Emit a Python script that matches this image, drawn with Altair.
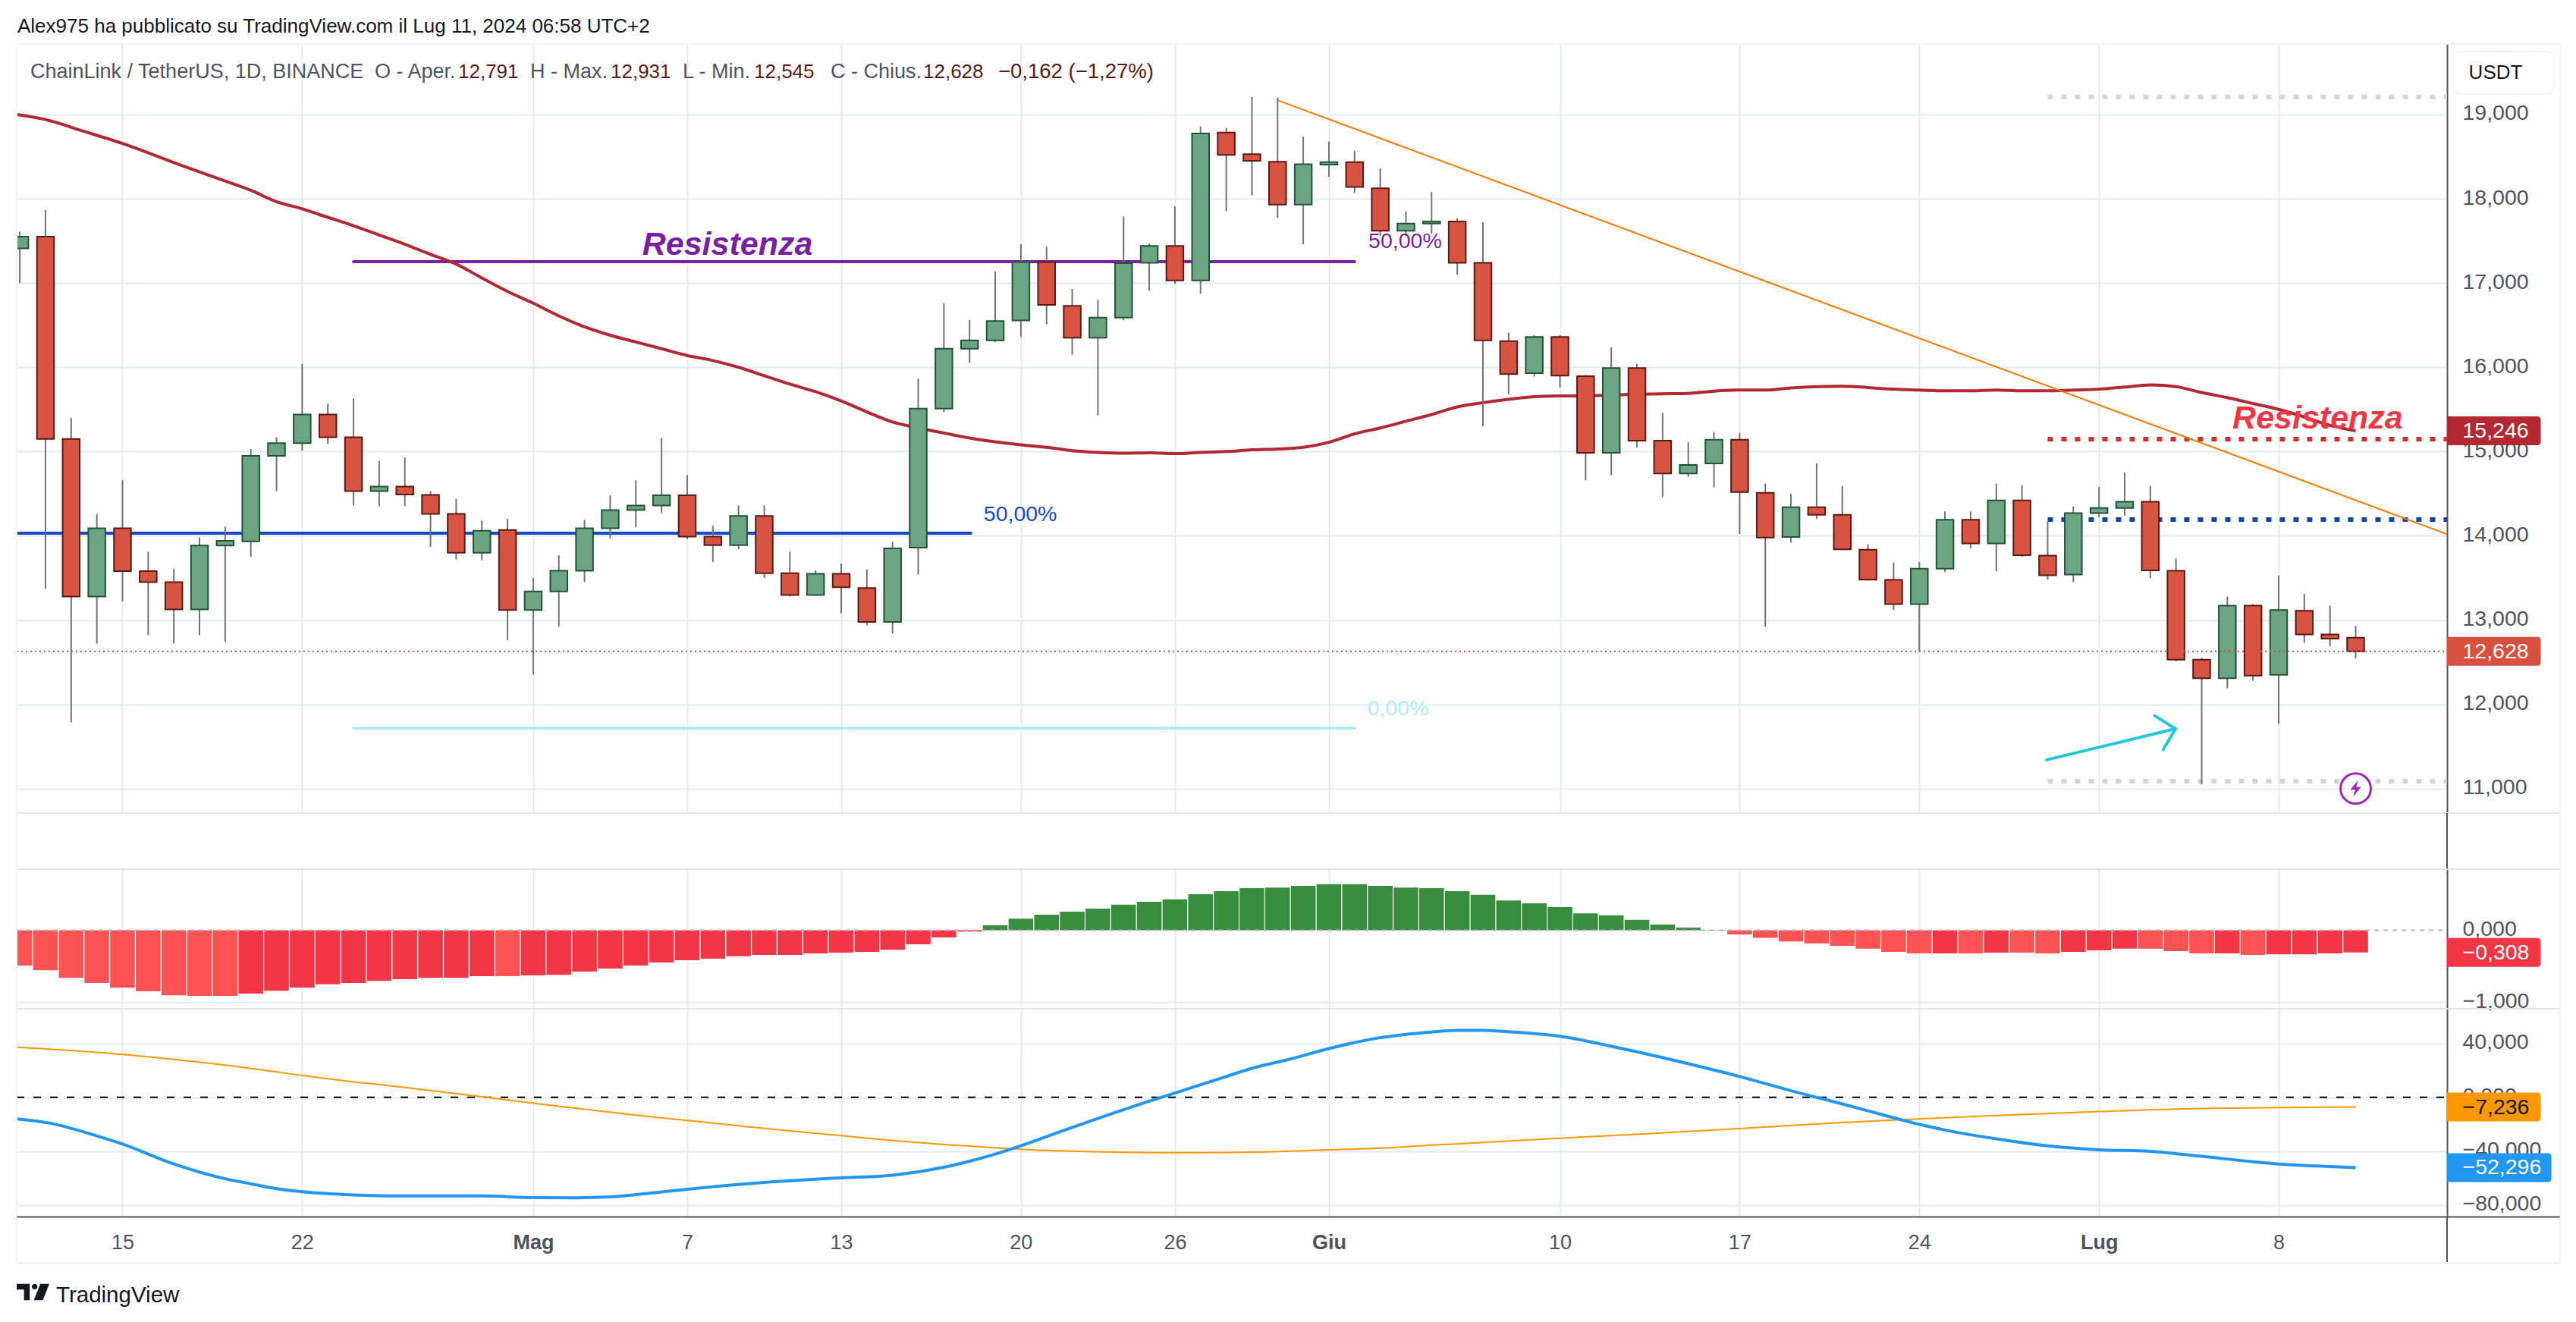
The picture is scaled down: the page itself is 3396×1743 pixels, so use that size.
import altair as alt
import pandas as pd

FONT = "Liberation Sans"

# ---- Candles: index 0 is 15 April; day -4 is 11 April, day 87 is 11 July
first_day = -4
opens = [17.41,17.55,15.15,13.28,14.09,13.58,13.45,13.125,13.885,13.935,14.95,15.10,15.44,15.17,14.53,14.585,14.485,14.26,13.80,14.07,13.12,13.34,13.585,14.09,14.305,14.36,14.48,13.99,13.89,14.235,13.556,13.296,13.55,13.38,12.977,13.86,15.51,16.22,16.32,16.555,17.25,16.73,16.35,16.59,17.24,17.44,17.03,18.785,18.53,18.44,17.93,18.405,18.435,18.125,17.62,17.705,17.73,17.24,16.31,15.93,16.36,15.895,14.985,15.99,15.13,14.74,14.86,15.14,14.51,13.985,14.34,14.25,13.835,13.476,13.19,13.61,14.19,13.91,14.42,13.765,13.54,14.27,14.33,14.405,13.585,12.53,12.31,13.17,12.35,13.11,12.83,12.791]
highs = [17.61,17.865,15.40,14.26,14.66,13.81,13.61,13.98,14.11,15.03,15.17,16.04,15.57,15.63,14.89,14.93,14.53,14.44,14.18,14.20,13.50,13.77,14.19,14.48,14.66,15.16,14.72,14.12,14.36,14.36,13.81,13.59,13.67,13.60,13.93,15.865,16.76,16.56,17.14,17.46,17.43,16.93,16.80,17.79,17.47,17.91,18.86,18.84,19.21,19.20,18.74,18.68,18.57,18.36,17.85,18.08,17.77,17.72,16.41,16.38,16.38,15.91,16.235,16.04,15.46,15.11,15.23,15.22,14.62,14.50,14.86,14.59,13.90,13.68,13.69,14.29,14.29,14.62,14.60,14.17,14.35,14.58,14.75,14.59,13.73,12.55,13.28,13.19,13.53,13.31,13.17,12.931]
lows = [17.00,13.37,11.785,12.72,13.22,12.82,12.72,12.82,12.74,13.75,14.53,15.01,15.09,14.36,14.35,14.35,13.87,13.72,13.71,12.76,12.35,12.92,13.45,13.97,14.10,14.27,13.96,13.69,13.84,13.50,13.28,13.29,13.08,12.935,12.84,13.54,15.47,16.05,16.30,16.36,16.51,16.15,15.43,16.56,16.91,16.99,16.875,17.85,18.04,17.775,17.46,18.26,18.07,17.56,17.56,17.585,17.10,15.30,15.68,15.89,15.76,14.66,14.72,15.05,14.46,14.70,14.575,14.02,12.92,13.92,14.20,13.84,13.47,13.12,12.63,13.57,13.85,13.58,13.75,13.48,13.45,14.22,14.24,13.50,12.51,11.05,12.19,12.28,11.77,12.73,12.69,12.545]
closes = [17.55,15.15,13.28,14.09,13.58,13.45,13.125,13.885,13.94,14.95,15.10,15.44,15.17,14.53,14.585,14.49,14.26,13.80,14.06,13.12,13.34,13.585,14.09,14.305,14.36,14.48,13.99,13.89,14.235,13.556,13.296,13.55,13.39,12.977,13.85,15.51,16.22,16.32,16.55,17.25,16.74,16.35,16.59,17.235,17.44,17.03,18.775,18.52,18.45,17.93,18.41,18.435,18.14,17.62,17.705,17.73,17.24,16.32,15.92,16.36,15.90,14.985,15.99,15.13,14.74,14.84,15.14,14.52,13.98,14.34,14.25,13.84,13.48,13.19,13.61,14.19,13.91,14.42,13.77,13.53,14.27,14.33,14.405,13.59,12.53,12.31,13.17,12.34,13.12,12.83,12.78,12.628]

# ---- Moving average
ma_days = [-4.12,-3,-1.5,0,2,4,5,6,7,8,9,10,11,12,13,14,15,16,17,18,19,20,21,22,23,24,25,26,27,28,29,30,31,32,33,34,35,36,37,38,39,40,41,42,43,44,45,46,47,48,49,50,51,52,53,54,55,56,57,58,59,60,61,62,63,64,65,66,67,68,69,70,71,72,73,74,75,76,77,78,79,80,81,82,83,84,85,86,87]
ma_vals = [19.0,18.94,18.8,18.656,18.43,18.21,18.10,17.965,17.88,17.78,17.68,17.57,17.46,17.34,17.225,17.06,16.9,16.76,16.61,16.48,16.38,16.30,16.22,16.14,16.08,16.0,15.9,15.8,15.71,15.6,15.47,15.35,15.28,15.22,15.16,15.115,15.08,15.05,15.01,14.99,14.98,14.985,14.975,14.99,15.0,15.02,15.03,15.05,15.11,15.21,15.28,15.36,15.44,15.53,15.58,15.62,15.65,15.66,15.66,15.67,15.68,15.685,15.69,15.717,15.73,15.73,15.755,15.77,15.775,15.76,15.74,15.73,15.72,15.72,15.73,15.72,15.72,15.73,15.74,15.765,15.79,15.77,15.70,15.64,15.57,15.50,15.41,15.31,15.246]

# ---- Histogram: days -4 .. 87
hist_vals = [-.489,-.553,-.658,-.73,-.795,-.845,-.90,-.909,-.909,-.877,-.836,-.795,-.749,-.73,-.70,-.676,-.658,-.658,-.635,-.635,-.626,-.616,-.571,-.53,-.489,-.447,-.416,-.393,-.361,-.342,-.342,-.32,-.31,-.30,-.27,-.196,-.10,-.018,.068,.16,.215,.256,.297,.352,.393,.425,.498,.539,.58,.589,.612,.635,.635,.612,.589,.58,.539,.489,.411,.37,.32,.233,.205,.142,.078,.037,.005,-.059,-.105,-.155,-.183,-.215,-.256,-.30,-.32,-.32,-.32,-.31,-.31,-.32,-.30,-.278,-.256,-.256,-.288,-.32,-.32,-.342,-.333,-.333,-.32,-.308]
hist_kinds = list("LLLLLLLLL") + list("DDDDDDDDDD") + ["L"] + ["D"] * 18 + ["G"] * 29 + list("LLLLLLLL") + list("DLDLLDDDLLLDLDDDD")

# ---- Oscillator lines
blue_days = [-4.1,-2.85,-1,0,2,4,5,6,7,9,11,14,16,17.5,19,21,23,25,27,28,30,32,34,35,36,38,40,41,43,44,45.5,47,49,51,52,53,54,56,58,59,61,63,65,67,69,70,71,73,75,77,79,81,83,84,86,87]
blue_vals = [-16,-19.1,-28.7,-34.8,-49.6,-60.6,-64.3,-68,-70.2,-72.6,-73.4,-73.4,-74.6,-74.8,-74.1,-70.4,-66.5,-63.3,-60.9,-59.9,-57.9,-52,-42.2,-36,-29.2,-15.7,-2.9,3.2,15.5,21.6,28.5,36.3,44.4,48.6,49.8,49.8,48.8,45.4,38,33.9,25,15.5,4.9,-4.9,-15.2,-20.1,-24.3,-30.9,-36.1,-39,-40.2,-43.9,-47.9,-49.6,-51.5,-52.296]
orange_days = [-4.1,-2,0,2,4,6,7,9,11,14,16,18,20,22,24,26,28,30,32,34,36,38,41,43,45.5,47,49,51,53,56,59,63,67,70,73,77,81,84,87]
orange_vals = [37.3,34.8,31.9,28.2,24,18.9,16.2,11.5,7.4,.5,-4.4,-8.8,-13.3,-17.2,-21.1,-25,-28.5,-32.1,-35.1,-37.5,-39.5,-40.5,-41.2,-41,-40,-39,-37.8,-35.6,-33.6,-30.4,-27.5,-23.3,-18.7,-16,-13.5,-10.6,-8.3,-7.6,-7.236]

# ---- Axis
tick_days = [0,7,16,22,28,35,41,47,56,63,70,77,84]
tick_names = ["15","22","Mag","7","13","20","26","Giu","10","17","24","Lug","8"]
month_days = [16,47,77]
price_ticks = [11,12,13,14,15,16,17,18,19]
macd_ticks = [0,-1]
osc_ticks = [40,0,-40,-80]

# ---- Drawings
fib_purple = 17.254
fib_blue = 14.03
fib_cyan = 11.717
dotted_levels = [19.21,15.148,14.193,11.087]
trend_days = [45,90.56]
trend_vals = [19.17,14.02]
arrow_days = [74.96,79.98]
arrow_vals = [11.34,11.71]
head_days = [79.17,79.98,79.5]
head_vals = [11.865,11.71,11.46]
last_close = 12.628

# ---- Layout (pixels of the panes)
W = 3204
FRAME_R = 3353
H_HEAD, H_PRICE, H_GAP, H_MACD, H_OSC, H_FOOT = 50, 1014, 74, 184, 274.5, 130.5

GRID = "#E1ECF2"
SEP = "#E0E3EB"
FRAME = "#F0F3FA"
AXIS = "#50535E"
TXT = "#50535E"

x_scale = alt.Scale(domain=[-4.122, 90.56], nice=False, zero=False, padding=0)
py = alt.Scale(domain=[10.709, 19.837], nice=False, zero=False, padding=0)
my = alt.Scale(domain=[-1.086, 0.843], nice=False, zero=False, padding=0)
oy = alt.Scale(domain=[-89.0, 65.9], nice=False, zero=False, padding=0)
label_expr = "replace(format(datum.value,'.3f'),'.',',')"
one = pd.DataFrame({"k": [0]})


def x_axis_grid():
    return alt.Axis(values=tick_days, grid=True, gridColor=GRID, gridWidth=2, labels=False,
                    ticks=False, domain=False, title=None)


def y_axis(vals, grid=True):
    return alt.Axis(values=vals, orient="right", grid=grid, gridColor=GRID, gridWidth=2,
                    ticks=False, domain=True, domainColor=AXIS, domainWidth=2, title=None,
                    labelExpr=label_expr, labelFont=FONT, labelFontSize=28.5, labelColor=TXT,
                    labelPadding=20, labelAlign="left", labelOverlap=False, labelBound=False,
                    labelFlush=False, labelOffset=-2)


def text(t, x, y, color=TXT, size=26, align="left", **kw):
    return alt.Chart(pd.DataFrame({"t": [t]})).mark_text(
        font=FONT, fontSize=size, color=color, align=align, baseline="middle", clip=False, **kw
    ).encode(x=alt.value(x), y=alt.value(y), text="t:N")


def hrule(y, x0=0, x1=FRAME_R, color=SEP, w=2):
    return alt.Chart(one).mark_rule(color=color, strokeWidth=w).encode(
        x=alt.value(x0), x2=alt.value(x1), y=alt.value(y))


def vrule(x, y0, y1, color=FRAME, w=2):
    return alt.Chart(one).mark_rule(color=color, strokeWidth=w).encode(
        x=alt.value(x), y=alt.value(y0), y2=alt.value(y1))


def side(h):
    return [vrule(0, 0, h), vrule(FRAME_R, 0, h)]


def line(days, vals, yscale, color, w):
    df = pd.DataFrame({"d": days, "v": vals})
    return alt.Chart(df).mark_line(color=color, strokeWidth=w, clip=True, interpolate="monotone").encode(
        x=alt.X("d:Q", scale=x_scale, axis=None), y=alt.Y("v:Q", scale=yscale, axis=None))


def tag(value, label, yscale, color, right, txt="#FFFFFF"):
    df = pd.DataFrame({"v": [value], "t": [label]})
    bar = alt.Chart(df).mark_bar(size=38, orient="horizontal", color=color, clip=False,
                                 cornerRadiusTopRight=4, cornerRadiusBottomRight=4).encode(
        x=alt.value(W), x2=alt.value(right), y=alt.Y("v:Q", scale=yscale, axis=None))
    lab = alt.Chart(df).mark_text(font=FONT, fontSize=28.5, color=txt, align="left", baseline="middle",
                                  clip=False).encode(
        x=alt.value(W + 20.5), y=alt.Y("v:Q", scale=yscale, axis=None), text="t:N")
    return [bar, lab]


# ---- Header strip
head = alt.layer(
    text("Alex975 ha pubblicato su TradingView.com il Lug 11, 2024 06:58 UTC+2", 1, 27, color="#131722", size=26)
).properties(width=W, height=H_HEAD)

# ---- Price pane
days = [first_day + i for i in range(len(opens))]
candles = pd.DataFrame({"d": days, "o": opens, "h": highs, "l": lows, "c": closes})
candles["top"] = candles[["o", "c"]].max(axis=1)
candles["bot"] = candles[["o", "c"]].min(axis=1)
candles["dir"] = ["up" if c >= o else "down" for o, c in zip(opens, closes)]

gridlayer = alt.Chart(pd.DataFrame({"d": ma_days, "v": ma_vals})).mark_line(opacity=0).encode(
    x=alt.X("d:Q", scale=x_scale, axis=x_axis_grid()),
    y=alt.Y("v:Q", scale=py, axis=y_axis(price_ticks)))


def fib(v, d0, d1, color):
    df = pd.DataFrame({"a": [d0], "b": [d1], "v": [v]})
    return alt.Chart(df).mark_rule(color=color, strokeWidth=4, strokeCap="round", clip=True).encode(
        x=alt.X("a:Q", scale=x_scale, axis=None), x2="b:Q", y=alt.Y("v:Q", scale=py, axis=None))


def dotted(v, color):
    df = pd.DataFrame({"a": [75], "b": [90.56], "v": [v]})
    return alt.Chart(df).mark_rule(color=color, strokeWidth=6, strokeDash=[7, 11], clip=True).encode(
        x=alt.X("a:Q", scale=x_scale, axis=None), x2="b:Q", y=alt.Y("v:Q", scale=py, axis=None))


wicks = alt.Chart(candles).mark_rule(color="#737375", strokeWidth=2, clip=True).encode(
    x=alt.X("d:Q", scale=x_scale, axis=None), y=alt.Y("l:Q", scale=py, axis=None), y2="h:Q")
bodies = alt.Chart(candles).mark_bar(size=22.5, strokeWidth=2, orient="vertical", clip=True).encode(
    x=alt.X("d:Q", scale=x_scale, axis=None),
    y=alt.Y("bot:Q", scale=py, axis=None), y2="top:Q",
    fill=alt.Fill("dir:N", scale=alt.Scale(domain=["up", "down"], range=["#6BA583", "#D75442"]), legend=None),
    stroke=alt.Stroke("dir:N", scale=alt.Scale(domain=["up", "down"], range=["#225437", "#5B1A13"]), legend=None))

last_line = alt.Chart(pd.DataFrame({"v": [last_close]})).mark_rule(
    color="#D85140", strokeWidth=2, strokeDash=[2, 4]).encode(
    x=alt.value(0), x2=alt.value(W), y=alt.Y("v:Q", scale=py, axis=None))


def seg(xs, ys, color, w, sc=py):
    df = pd.DataFrame({"d": xs, "v": ys, "n": range(len(xs))})
    return alt.Chart(df).mark_line(color=color, strokeWidth=w, strokeCap="round", strokeJoin="miter", clip=True).encode(
        x=alt.X("d:Q", scale=x_scale, axis=None), y=alt.Y("v:Q", scale=sc, axis=None), order="n:Q")


def fib_text(t, d, v, color):
    df = pd.DataFrame({"d": [d], "v": [v], "t": [t]})
    return alt.Chart(df).mark_text(font=FONT, fontSize=28.5, color=color, align="left", baseline="middle").encode(
        x=alt.X("d:Q", scale=x_scale, axis=None), y=alt.Y("v:Q", scale=py, axis=None), text="t:N")


def big_text(t, d, v, color):
    df = pd.DataFrame({"d": [d], "v": [v], "t": [t]})
    return alt.Chart(df).mark_text(font=FONT, fontSize=43, fontWeight="bold", fontStyle="italic", color=color,
                                   align="left", baseline="middle").encode(
        x=alt.X("d:Q", scale=x_scale, axis=None), y=alt.Y("v:Q", scale=py, axis=None), text="t:N")


bolt_df = pd.DataFrame({"d": [87], "v": [11.0]})
circle = alt.Chart(bolt_df).mark_point(shape="circle", size=1590, stroke="#9C27B0", strokeWidth=3, fill="#FFFFFF",
                                       filled=False, fillOpacity=1, opacity=1).encode(
    x=alt.X("d:Q", scale=x_scale, axis=None), y=alt.Y("v:Q", scale=py, axis=None))
bolt = alt.Chart(bolt_df).mark_point(shape="M0.3,-1 L-0.65,0.15 L-0.05,0.15 L-0.3,1 L0.65,-0.2 L0.05,-0.2 Z",
                                     size=484, filled=True, color="#9C27B0", opacity=1).encode(
    x=alt.X("d:Q", scale=x_scale, axis=None), y=alt.Y("v:Q", scale=py, axis=None))

legend_y = 37
legend_bits = [
    ("ChainLink / TetherUS, 1D, BINANCE", 18, TXT, 27), ("O - Aper.", 472, TXT, 27), ("12,791", 582, "#5B1A13", 26),
    ("H - Max.", 677, TXT, 27), ("12,931", 783, "#5B1A13", 26), ("L - Min.", 878, TXT, 27), ("12,545", 972, "#5B1A13", 26),
    ("C - Chius.", 1073, TXT, 27), ("12,628", 1195, "#5B1A13", 26), ("\u22120,162 (\u22121,27%)", 1294, "#5B1A13", 27.5),
]

price = alt.layer(
    gridlayer,
    fib(fib_purple, 9, 48, "#7B1FA2"), fib(fib_blue, -4.122, 33.05, "#1848CC"), fib(fib_cyan, 9, 48, "#B2EBF2"),
    *[dotted(v, c) for v, c in zip(dotted_levels, ["#D1D4DC", "#D42D2D", "#0D47A1", "#D1D4DC"])],
    line(ma_days, ma_vals, py, "#B22833", 4),
    seg(trend_days, trend_vals, "#F57C00", 2),
    wicks, bodies, last_line,
    seg(arrow_days, arrow_vals, "#26C6DA", 4), seg(head_days, head_vals, "#26C6DA", 4),
    fib_text("50,00%", 33.55, 14.256, "#1848CC"), fib_text("50,00%", 48.54, 17.5, "#7B1FA2"),
    fib_text("0,00%", 48.5, 11.95, "#B2EBF2"),
    big_text("Resistenza", 20.25, 17.45, "#7B1FA2"), big_text("Resistenza", 82.2, 15.39, "#F23645"),
    circle, bolt,
    *tag(15.246, "15,246", py, "#B22833", 3327.5),
    *tag(12.628, "12,628", py, "#D85140", 3327.5),
    *[text(t, x, legend_y, color=c, size=s) for t, x, c, s in legend_bits],
    alt.Chart(one).mark_rect(fill="#FFFFFF", stroke=FRAME, strokeWidth=2, cornerRadius=10).encode(
        x=alt.value(3212), x2=alt.value(3344.7), y=alt.value(9.7), y2=alt.value(66)),
    text("USDT", 3268, 37.7, color="#131722", align="center"),
    hrule(0, color=FRAME), *side(H_PRICE),
).resolve_axis(x="independent", y="independent").properties(width=W, height=H_PRICE)

# ---- Empty pane
gap = alt.layer(
    hrule(0), vrule(W, 0, H_GAP, color=AXIS, w=2), *side(H_GAP)
).properties(width=W, height=H_GAP)

# ---- Histogram pane
hist = pd.DataFrame({"d": days, "v": hist_vals, "z": [0] * len(days), "k": hist_kinds})
macd_base = alt.Chart(hist).mark_bar(opacity=0, size=1, orient="vertical").encode(
    x=alt.X("d:Q", scale=x_scale, axis=x_axis_grid()),
    y=alt.Y("v:Q", scale=my, axis=y_axis(macd_ticks, grid=False)), y2="z:Q")
macd_bars = alt.Chart(hist).mark_bar(size=32.6, orient="vertical", clip=True).encode(
    x=alt.X("d:Q", scale=x_scale, axis=None),
    y=alt.Y("v:Q", scale=my, axis=None), y2="z:Q",
    color=alt.Color("k:N", scale=alt.Scale(domain=["L", "D", "G"], range=["#FF5252", "#F23645", "#388E3C"]), legend=None))
macd_grid = alt.Chart(pd.DataFrame({"v": [-1]})).mark_rule(color=GRID, strokeWidth=2).encode(
    x=alt.value(0), x2=alt.value(W), y=alt.Y("v:Q", scale=my, axis=None))
macd_zero = alt.Chart(pd.DataFrame({"v": [0]})).mark_rule(color="#B2B5BE", strokeWidth=2, strokeDash=[6, 6]).encode(
    x=alt.value(0), x2=alt.value(W), y=alt.Y("v:Q", scale=my, axis=None))
macd = alt.layer(
    macd_base, macd_grid, macd_bars, macd_zero,
    *tag(-0.308, "\u22120,308", my, "#F23645", 3327.5),
    hrule(0), *side(H_MACD)
).resolve_axis(x="independent", y="independent").properties(width=W, height=H_MACD)

# ---- Oscillator pane
name_map = "{" + ",".join(f"'{d}':'{n}'" for d, n in zip(tick_days, tick_names)) + "}"
month_test = " || ".join(f"datum.value=={d}" for d in month_days)
osc_x_axis = alt.Axis(values=tick_days, grid=True, gridColor=GRID, gridWidth=2, ticks=False, domain=False, title=None,
                      labelExpr=f"{name_map}[datum.value]", labelFont=FONT, labelFontSize=27, labelColor=TXT,
                      labelPadding=21, labelOverlap=False, labelBound=False, labelFlush=False,
                      labelFontWeight={"condition": {"test": month_test, "value": "bold"}, "value": "normal"})
osc_base = alt.Chart(pd.DataFrame({"d": blue_days, "v": blue_vals})).mark_line(opacity=0).encode(
    x=alt.X("d:Q", scale=x_scale, axis=osc_x_axis),
    y=alt.Y("v:Q", scale=oy, axis=y_axis(osc_ticks)))
osc_zero = alt.Chart(pd.DataFrame({"v": [0]})).mark_rule(color="#000000", strokeWidth=2, strokeDash=[10, 12]).encode(
    x=alt.value(0), x2=alt.value(W), y=alt.Y("v:Q", scale=oy, axis=None))
osc = alt.layer(
    osc_base, osc_zero,
    line(orange_days, orange_vals, oy, "#FF9800", 2),
    line(blue_days, blue_vals, oy, "#2196F3", 4),
    *tag(-7.236, "\u22127,236", oy, "#FF9800", 3327.5, txt="#131722"),
    *tag(-52.296, "\u221252,296", oy, "#2196F3", 3341.6),
    hrule(0), *side(H_OSC), hrule(H_OSC, color=AXIS, w=2),
).resolve_axis(x="independent", y="independent").properties(width=W, height=H_OSC)

# ---- Footer
logo_path = ("M-1,-0.5 L-0.2,-0.5 L-0.2,0.5 L-0.55,0.5 L-0.55,-0.15 L-1,-0.15 Z "
             "M0.1,-0.5 A0.17,0.17 0 1 1 0.1,-0.16 A0.17,0.17 0 1 1 0.1,-0.5 Z "
             "M0.45,-0.5 L1,-0.5 L0.6,0.5 L0.05,0.5 Z")
logo = alt.Chart(one).mark_point(shape=logo_path, size=1849, filled=True, color="#131722", opacity=1).encode(
    x=alt.value(21.5), y=alt.value(98.5))
foot = alt.layer(
    vrule(0, 0, 60.5), vrule(FRAME_R, 0, 60.5), vrule(W, 0, 60.5, color=AXIS, w=2),
    hrule(60.5, color=FRAME, w=3),
    logo, text("TradingView", 52, 102.5, color="#131722", size=29.5),
).properties(width=W, height=H_FOOT)

chart = alt.vconcat(
    head, price, gap, macd, osc, foot, spacing=0, bounds="flush"
).properties(
    padding={"left": 12, "top": 0, "right": 0, "bottom": 0}, background="#FFFFFF"
).configure_view(stroke=None)

chart.save("out.html", embed_options={"renderer": "svg", "actions": False})
